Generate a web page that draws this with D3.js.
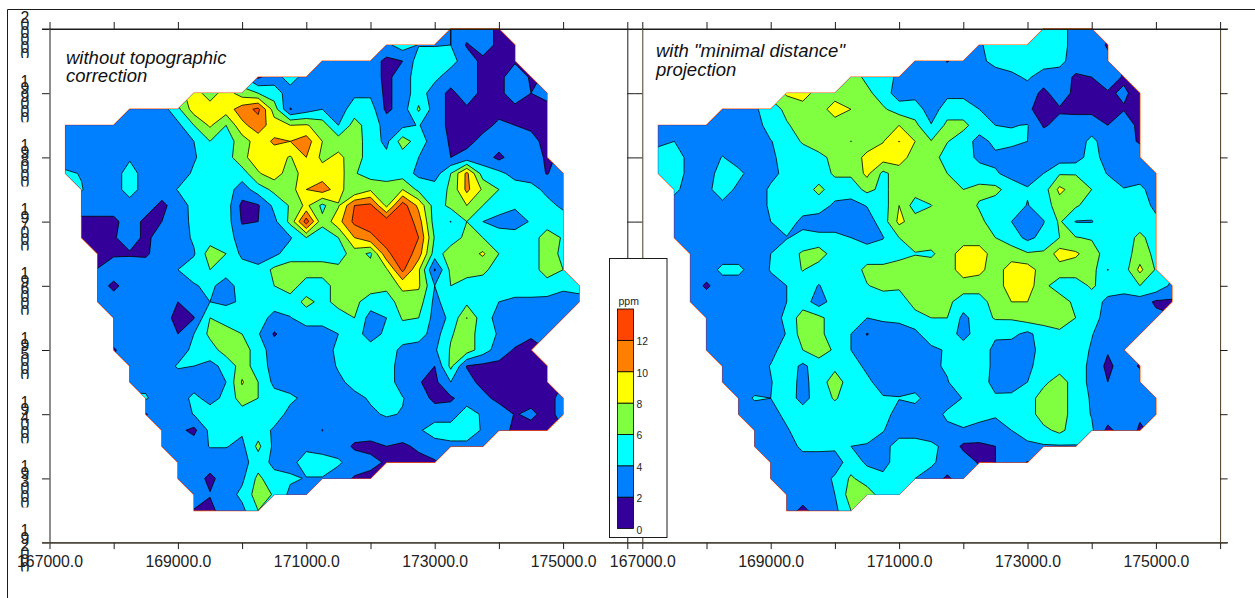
<!DOCTYPE html>
<html>
<head>
<meta charset="utf-8">
<script src="https://cdn.jsdelivr.net/npm/d3@7"></script>
<style>
  html, body { margin: 0; padding: 0; background: #fff; }
  svg { display: block; font-family: "Liberation Sans", Arial, sans-serif; }
</style>
</head>
<body>
<div id="viz"></div>
<script>
// ppm on a 250 m grid. Each row starts at rowStart[r].
const rowStart = [24,20,16,12,8,4,0,0,0,0,1,1,1,1,2,2,2,2,3,3,3,4,4,5,5,6,6,7,7,8,8];

const leftPpm = [
  [4,3,3,1.5],
  [3.5,5,3.9,3.9,4,1.8,3,1.5,1.5],
  [3,3,3,3,1.5,2,5,5,4.7,3,1.5,1.5,1.8],
  [1.7,3,5,3,3,3,3,3,1.5,3,5,4.5,3,3,1.5,1.5,3,1.8],
  [9,7,9,7,6,5,3,3,3,3,3.6,3.6,1.5,3,5,3,1.5,3,1.5,1.5,3,2,2.5],
  [3,3,3,5.5,9,9,9,11,12.5,7,1.9,3,4,3,5,5,1.5,3,6.3,3,1.5,1.7,1.5,1.5,1.5,1.5,1.5],
  [3,3,3,3,3,3,3,3.5,6,8.3,6,9.5,11,9,8,8.2,7,4,6.8,5,3.3,3.5,4.1,3,1.5,1.5,1.5,2.3,2,1.7,1.5],
  [3,3,3,3,3,3,3,3,4,6,5,7,9,10.3,10,11,8,7,7,5,3.5,7,5,3,1.8,1.5,2.5,3,3,2.5,1.5],
  [3,3,3,3,3.7,3,3,3,3.8,5,5,7.5,9,9,7.8,10,7.5,8.5,7,5,4.5,5,4,3,2,2.6,3,1.5,3,3,1.7],
  [4.3,3.9,3,3,5,3,3,3,4.3,5,5,5,7.8,9,7,9,9,9,6.2,5,5,5,3.5,3,6,10.5,5,4.5,3.3,3,1.9,3],
  [4.1,3,3,5,3,3,4.1,5,5,5,3,5,6.5,7,10,11,9,6,7.7,7,8,5.5,5,6.3,10.5,7.7,6,5,4.7,3.5,3],
  [3,3,3,3,3,1.5,3,4.6,5,5,1.5,1.8,4.5,6.2,8.5,5.5,7.8,12,12.5,7.5,13,9.5,5,6.5,8,6,5,4.3,5,4.6,3.6],
  [1.5,1.5,1.5,3,1.5,2,3,4.5,5,5,1.8,2,3.5,6.5,13,6.5,9.3,12.5,13,13.3,14,11,5,3.95,6,4,3.3,3,4.2,5,5],
  [1.5,1.5,1.8,3,1.5,3,3,4.3,5,5,3,3,3,3.8,6,5,6,10,11.5,13,14,12,5.8,5,6.5,6,5,5,5,7,5.8],
  [1.5,1.7,1.8,1.7,3,3,3.8,7,6,3.5,3,3.5,5,5,5,5,7,5.6,11.5,13.5,11,5,7,7,8.3,6,5,5,7,5.5],
  [2.05,3.2,3,3,3,4,5,6,5,5,4.5,6.5,7,7,7,6.5,7,7,7.7,12.5,8.3,1.8,6.5,7,6.5,5,5,5,7,6],
  [3,1.5,3,3,3,3,3.8,4.5,3,5,5,6,7,5,5,7,7,7,6.5,8.5,8.3,4,6,5,5,5,5,5,5,4.5,5],
  [3,3,3,3,3,2,3.3,4,3.7,4.2,5,5,5,6.5,5.5,6.5,6.5,5,5,7,7,3.5,5,5.5,4,4,3.6,3.6,3.5,3,3],
  [3,3,3,3,1.3,1.9,6,5,5,5,3.3,3.9,5,5,5.3,6,3.2,4,6.2,6,3.3,4.3,8.05,4.8,3.4,3,3,3,3],
  [3,3,3,3,2,4,6.5,7,6,4.2,1.8,3,3,3,4,5,3,4.5,5,5,3,5.8,7,5,3.8,3,2.2,3],
  [1.8,3,3,3,3,4.5,5,7,7,5,3,3,3,3,4.5,5,5,5,3.5,3,3.7,6.2,7,5,3,1.8,1.5],
  [3,3,3,4.2,4,3.5,4.5,7,5,3.3,3,3,3,4.2,5,5,5,3,3,2,6.5,1.9,1.5,1.5,1.5,1.5,1.5],
  [3.9,3.5,3,3,3,3,4,8.2,6,3.5,3,3,3,3.6,4.6,5,5,3,2.1,1.5,4,2.6,1.5,1.5,1.5,1.5,1.5],
  [4.2,3,3,4.5,3.3,4.5,7,6,4.8,4.4,3.5,3,3,3.5,4.2,5,4.1,3,1.5,1.7,3,2.5,1.5,1.5,1.5,1.5,2.5],
  [1.9,3,3,4.1,5,5,5,5,5,3.4,3,3,3,3,3.7,4.2,3.9,3,3,3,5,3.7,3,1.9,2.3,1.5,2.5],
  [3,2.5,1.5,4.5,5,4.3,5,3.7,3,3,1.95,3,3,3,3,3,3.7,5,5,5,3.8,3,1.5,1.5,1.5],
  [3,3,3,4.1,4.1,3.5,6.5,3.5,3,3.5,3,3,1.7,1.5,2,1.7,2.3,3,3.5,3.5,3],
  [3,3,3,3,3.3,5,3.5,3.3,5,5,4.3,3,2.5,1.8,1.5,1.5,1.8],
  [3,3,1.5,3,3.6,6.5,4.6,4.3,3.9,3.9,3,1.8,1.5],
  [3,2.1,3,4.5,7,5.8,3.5,3.8],
  [1.9,1.5,3,3.5,6]
];

const rightPpm = [
  [4,5,3,3],
  [3.7,5,5,5,5,5,3,3,1.8],
  [3,3,1.9,3,3.6,4.5,5,5,5,4.6,3,3,2.5],
  [7,5.5,5,3.5,3,3,3,3,3,3.2,3.5,4.3,3,3,1.7,2,3,1.8],
  [8.3,9,7,7,7,6.5,5,3,3.3,3,3.5,3.5,3,3,3,3,1.5,3,1.5,1.5,1.8,2.2,1.5],
  [3,3,3.7,5,6.5,7,7,9,8,7,6.3,5,5,3,5,5,4,3.5,3,2.2,1.5,1.8,1.5,1.5,1.5,1.9,1.5],
  [3,3,3,3,3,3,3,5,5.8,6.8,6,7,7,7,7,8,6.5,4.1,6.5,6.5,5,4,3.9,4.1,1.8,2.5,3,3,2,3,1.5],
  [3.5,4,3,3,3,3,3,3.9,5,6.2,7,7,5.97,7,7.9,10.05,8,6.1,6.1,5,3.3,4.5,4.5,4,3,3,3,4.5,3,3,1.7],
  [5,5.5,3,3,4.1,3,3,3.5,5,5,5.5,6.5,7,8.5,9,9,7,7,5,5,3.5,3.6,3,3,3,3,3,5,3,3,3.6],
  [5,5.5,3,3,5,4.5,3,3.5,4.5,5,5,6.3,6.3,8.5,5.5,7,7,7,6,5,5,4.2,3.4,3,4,5.8,5.9,5,3.9,3,3,3.5],
  [4.5,3,3.5,5,3.5,3,4.3,5,5,6.5,5,5,6.5,5.5,7,7,7,6.5,6,6.5,6.6,5,4.2,5,8.5,7,6,5,4.1,4.5,3],
  [3,3,3,3.5,3,3,4.3,5,4.9,5,3.6,3.3,4.1,5,8,5,5.95,7,7,5.8,5,5,3.9,5,7,6.3,5,5,5,5,3.5],
  [3,3,3,3,3,3,4,5,3.5,3,3,3,3,5,8.5,7,7,7,7,6.5,5,4,3,3.9,6.3,3.9,3.9,5,5,5,4.5],
  [3,3,3,3,3,3,3.3,3.9,4.5,4.5,4.5,4,3.3,3.9,6,7,7,7,7,7,6,5,3.5,4.6,6,6.1,5.8,5,5,6.5,5],
  [3,3,3,3,3,4,5,6.3,7,5,5,5,5,5.3,5.9,5.7,7,9,9,7,7,6.2,6.3,9,8.3,7,5,5,7,5.5],
  [3,3,4.5,4.5,3,4.1,5,6.1,5,5,5,6.5,6.5,7,7,7,7,9,8.5,7,9,9,7,7,7,6.8,3.95,5,8.5,5.8],
  [3,1.7,3,3,3,3.5,4,5,3.9,5,5,5.9,6.5,6.5,6,7,7,7,7,7,9,9,6.5,5,5,6.3,5,5,6,5.5,3.5],
  [3,3,3,3,3,3,4,5,3,5,5,5,5,4.5,7,7,6.5,5,5,7,8,8,7,7,5.5,5,3.5,3,3,1.7,1.7],
  [3,3,3,3,3,4.5,7,6.5,5,5,4,4.3,4.5,5,6,6,3.5,5,6.2,6.2,7,6.9,6.5,6,5,3,3,3,2.5],
  [3,3,3,3,3,4.1,7,6.5,5,4,1.9,3,3,3.6,5,5,3.3,5,4.3,4.5,3.5,5,5.8,5,4.1,3,3,3],
  [3,3,3,3,3.3,5,6,7,5.7,4,3,3,3,3,3.6,4.2,5,5,3.5,3,3,5,5,5,3.8,2.2,3],
  [3,3,3,4.1,5,3.6,5,5.5,5,3.5,3,3,3,3.7,4.2,5,5,3.5,3,3.5,5,5,5,3.5,1.5,3,1.8],
  [3,3,3,3.9,5,3.4,5,7,5,4.5,3,3,3,3.5,3.9,5,5,3.3,3,4,5.5,7,5,3.5,2,3,3],
  [3,4.2,4,5,3.3,5,6.2,5,4.3,4.2,4.1,4.5,3,3,4.1,5,4.3,4.5,5,7,7,5,3.8,3,3,3,3],
  [3,3,3.3,4.5,5,5,5,6,5,5,3,3,3,4.4,5,5,4.2,5,5,7,7,5,3.9,3,3,2.2,3],
  [3,3,3.8,5,5,5,5,5,4.1,3,3,3,3.5,3.8,3,3.3,4,5,5.5,6.5,5,4.3,1.5,3,1.8],
  [3,3,3,4.5,4.5,4.4,4,3.8,3.2,5,5,4.4,3.5,1.6,1.7,2,3,3.5,3.8,3.8,3.9],
  [3,3,3,3,3,5,3.7,3.3,5,5,4.4,3,3,1.8,2,3,1.9],
  [3,3,3,3,4.3,6.3,5,4.5,5,4,3,1.7,3],
  [3,3,3,4,7,7,5,4],
  [3,1.5,3,3.5,6]
];

// outline of the sampled area, as [easting, northing]
const boundary = [
  [167250,198500],[168000,198500],[168250,198750],[169000,198750],[169250,199000],[170000,199000],
  [170250,199250],[171000,199250],[171250,199500],[172000,199500],[172250,199750],[173000,199750],
  [173250,200000],[174000,200000],[174250,199750],[174250,199500],[174750,199000],[174750,198000],
  [175000,197750],[175000,196250],[175250,196000],[175250,195750],[174500,195000],[174750,194750],
  [174750,194500],[175000,194250],[175000,194000],[174750,193750],[174000,193750],[173750,193500],
  [173250,193500],[173000,193250],[172250,193250],[172000,193000],[171250,193000],[171000,192750],
  [170500,192750],[170250,192500],[169250,192500],[169250,192750],[169000,193000],[169000,193250],
  [168750,193500],[168750,193750],[168500,194000],[168500,194250],[168250,194500],[168250,194750],
  [168000,195000],[168000,195500],[167750,195750],[167750,196500],[167500,196750],[167500,197500],
  [167250,197750]
];

const levels = [0,2,4,6,8,10,12];
const colors = ["#330099","#0080ff","#00ffff","#80ff40","#ffff00","#ff8000","#ff4500"];
const eastTicks = [167000,168000,169000,170000,171000,172000,173000,174000,175000,176000];
const northTicks = [200000,199000,198000,197000,196000,195000,194000,193000,192000];
const legendTicks = [0,2,4,6,8,10,12];
const panelTitles = [["without topographic","correction"],['with "minimal distance"',"projection"]];

const width = 1255, height = 598;
const svg = d3.select("#viz").append("svg").attr("width", width).attr("height", height);
const ink = "#1c1c1c";
const brown = "#4a3a22";

const y = d3.scaleLinear().domain([192000,200000]).range([542.6,29]);
const panels = [
  { x: d3.scaleLinear().domain([167000,176000]).range([49.5,627.3]), ppm: leftPpm, title: panelTitles[0], tx: 66, ty: [64,82], side: ink },
  { x: d3.scaleLinear().domain([167000,176000]).range([642.3,1220.1]), ppm: rightPpm, title: panelTitles[1], tx: 656, ty: [57,76], side: brown }
];

// nodes outside the sampled area get their neighbours' mean, they are clipped away anyway
function fullGrid(rows) {
  const nx = 33, ny = 31;
  let grid = new Array(nx * ny).fill(null);
  rows.forEach((row, r) => row.forEach((v, i) => { grid[r * nx + rowStart[r] + i] = v; }));
  for (let pass = 0; pass < 40 && grid.some((v) => v === null); pass++) {
    grid = grid.map((v, k) => {
      if (v !== null) return v;
      const c = k % nx, r = Math.floor(k / nx);
      const around = [[c-1,r],[c+1,r],[c,r-1],[c,r+1]]
        .filter(([a, b]) => a >= 0 && a < nx && b >= 0 && b < ny)
        .map(([a, b]) => grid[b * nx + a])
        .filter((u) => u !== null);
      return around.length ? d3.mean(around) : null;
    });
  }
  return grid;
}

function drawPanel(p, i) {
  const g = svg.append("g");
  const line = d3.line().x((d) => p.x(d[0])).y((d) => y(d[1])).curve(d3.curveLinearClosed);

  // thin orange rim that shows round the filled area
  g.append("path").attr("d", line(boundary)).attr("fill", "none")
    .attr("stroke", "#ff5a00").attr("stroke-width", 1.3);

  svg.append("clipPath").attr("id", "area" + i).append("path").attr("d", line(boundary));

  const toMap = d3.geoTransform({
    point(cx, cy) {
      this.stream.point(p.x(167250 + 250 * (cx - 0.5)), y(200000 - 250 * (cy - 0.5)));
    }
  });
  const contours = d3.contours().size([33,31]).thresholds(levels)(fullGrid(p.ppm));
  g.append("g").attr("clip-path", `url(#area${i})`)
    .selectAll("path").data(contours).join("path")
    .attr("d", d3.geoPath(toMap))
    .attr("fill", (d, k) => colors[k])
    .attr("stroke", "#000")
    .attr("stroke-width", 0.8)
    .attr("stroke-linejoin", "round");

  // frame
  const fmt = (d) => ((d - 167000) % 2000 === 0 && d < 176000 ? d3.format(".1f")(d) : "");
  const bottom = g.append("g").attr("transform", `translate(0,${y(192000)})`)
    .call(d3.axisBottom(p.x).tickValues(eastTicks).tickSize(6.5).tickSizeOuter(0).tickFormat(fmt));
  bottom.selectAll("text").attr("y", 16).attr("dy", 8).attr("font-size", 15.8).attr("fill", "#222");
  bottom.style("font-family", "inherit");
  g.append("g").attr("transform", `translate(0,${y(200000)})`)
    .call(d3.axisTop(p.x).tickValues(eastTicks).tickSize(7).tickSizeOuter(0).tickFormat(""));
  const leftSide = g.append("g").attr("transform", `translate(${p.x(167000)},0)`)
    .call(d3.axisLeft(y).tickValues(northTicks).tickSize(7.5).tickSizeOuter(0).tickFormat(""));
  const rightSide = g.append("g").attr("transform", `translate(${p.x(176000)},0)`)
    .call(d3.axisRight(y).tickValues(northTicks).tickSize(7.5).tickSizeOuter(0).tickFormat(""));
  g.selectAll(".domain, .tick line").attr("stroke", ink);
  leftSide.select(".domain").attr("stroke", p.side);
  rightSide.select(".domain").attr("stroke", i ? brown : ink);

  g.selectAll(".title").data(p.title).join("text")
    .attr("x", p.tx).attr("y", (d, k) => p.ty[k])
    .attr("font-size", 18.5).attr("font-style", "italic").attr("fill", "#111")
    .text((d) => d);
}
panels.forEach(drawPanel);

// rules joining the two panels
const rules = svg.append("g").attr("stroke", ink).attr("fill", "none");
rules.append("line").attr("x1", 42).attr("x2", 1228).attr("y1", y(200000)).attr("y2", y(200000));
rules.append("line").attr("x1", 42).attr("x2", 1228).attr("y1", y(192000)).attr("y2", y(192000)).attr("stroke", "#4a4030");
rules.append("line").attr("x1", 7.5).attr("x2", 1255).attr("y1", 9.5).attr("y2", 9.5);
rules.append("line").attr("x1", 7.5).attr("x2", 7.5).attr("y1", 9.5).attr("y2", height);

// northing labels come out as a squeezed column of digits, last one cut off
const stackStep = 7.5;
const north = svg.append("g").attr("font-size", 15.8).attr("fill", "#222").attr("text-anchor", "middle");
northTicks.forEach((n, i) => {
  const top = y(n) - 18;
  svg.append("clipPath").attr("id", "stack" + i).append("rect")
    .attr("x", 10).attr("width", 32).attr("y", top - 2).attr("height", 49);
  north.append("g").attr("clip-path", `url(#stack${i})`)
    .selectAll("text").data(String(n).split("")).join("text")
    .attr("x", 25).attr("y", (d, k) => top + 11.5 + k * stackStep)
    .text((d) => d);
});

// legend
const legendY = d3.scaleLinear().domain([0,14]).range([528.5,309]);
const legend = svg.append("g");
legend.append("rect").attr("x", 609.5).attr("y", 258.5).attr("width", 57.5).attr("height", 279)
  .attr("fill", "#fff").attr("stroke", ink);
legend.selectAll("rect.band").data(levels).join("rect").attr("class", "band")
  .attr("x", 617.5).attr("width", 16)
  .attr("y", (d) => legendY(d + 2)).attr("height", (d) => legendY(d) - legendY(d + 2))
  .attr("fill", (d, k) => colors[k]).attr("stroke", "#000").attr("stroke-width", 0.8);
legend.selectAll("text.tick").data(legendTicks).join("text").attr("class", "tick")
  .attr("x", 636.5).attr("y", (d) => legendY(d) + 5)
  .attr("font-size", 10.3).attr("fill", "#222").text((d) => d);
legend.append("text").attr("x", 618.5).attr("y", 305).attr("font-size", 10.5).attr("fill", "#222").text("ppm");
</script>
</body>
</html>
